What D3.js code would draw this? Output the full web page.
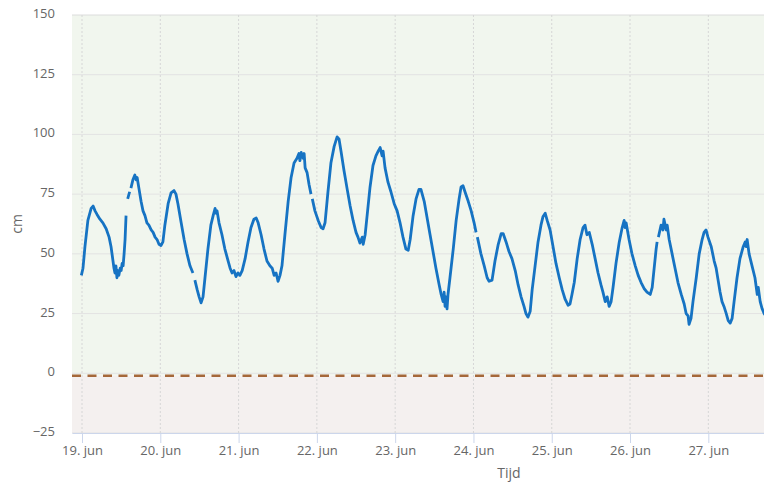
<!DOCTYPE html>
<html>
<head>
<meta charset="utf-8">
<script src="https://cdn.jsdelivr.net/npm/d3@7"></script>
<style>
  body { margin: 0; background: #fff; }
  svg { display: block; font-family: "Open Sans", sans-serif; }
</style>
</head>
<body>
<svg id="chart" width="764" height="484"></svg>
<script>
// hours after 19 jun 00:00
var hours = [
  -0.2, 0.3, 0.9, 1.8, 2.8, 3.4, 4.0, 4.6, 5.5, 6.4, 7.4, 8.3, 8.9, 9.5, 9.8, 10.1, 10.4, 10.7, 11.0, 11.3,
  11.7, 12.0, 12.3, 12.6, 12.9, 13.2, 13.5, 13.7, 14.0, 14.6, 14.8, 15.0, 15.6, 16.2, 16.6, 16.9, 17.5, 18.1, 18.7, 19.3,
  19.9, 20.5, 21.2, 21.8, 22.4, 23.0, 23.6, 24.2, 24.8, 25.4, 26.4, 27.3, 28.2, 28.8, 29.4, 30.4, 31.3, 32.2, 33.1, 34.0,
  34.3, 34.6, 35.3, 35.9, 36.5, 37.1, 37.7, 38.6, 39.5, 40.2, 40.8, 41.1, 41.4, 42.0, 42.9, 43.8, 44.8, 45.4, 46.0, 46.6,
  47.2, 47.8, 48.4, 49.1, 50.0, 50.9, 51.8, 52.7, 53.4, 54.0, 54.9, 55.8, 56.7, 57.6, 58.3, 58.9, 59.5, 60.1, 60.7, 61.3,
  62.2, 63.2, 64.1, 65.0, 65.9, 66.5, 66.8, 67.2, 67.8, 68.1, 68.4, 69.0, 69.6, 70.2, 70.4, 70.6, 71.4, 72.4, 73.3, 73.9,
  74.5, 75.4, 76.3, 77.3, 78.2, 78.8, 79.4, 80.3, 81.3, 82.2, 83.1, 84.0, 84.6, 85.2, 85.9, 86.2, 86.8, 87.4, 88.3, 89.2,
  90.1, 90.8, 91.4, 92.0, 92.3, 92.9, 93.8, 94.7, 95.7, 96.6, 97.5, 98.4, 99.3, 100.0, 100.6, 101.5, 102.4, 103.3, 103.9, 104.9,
  105.8, 106.7, 107.6, 108.5, 109.5, 110.1, 110.7, 111.0, 111.3, 111.6, 111.9, 112.2, 112.8, 113.8, 114.7, 115.6, 116.2, 116.8, 117.4, 118.4,
  119.3, 120.2, 120.8, 121.0, 121.2, 122.3, 123.3, 124.2, 124.8, 125.7, 126.6, 127.6, 128.5, 129.1, 130.0, 130.9, 131.8, 132.8, 133.7, 134.6,
  135.5, 136.1, 136.7, 137.4, 138.0, 138.9, 139.8, 140.7, 141.3, 142.0, 142.6, 143.5, 144.4, 145.3, 146.3, 147.2, 148.1, 149.0, 149.6, 150.2,
  150.9, 151.8, 152.7, 153.6, 154.2, 154.8, 155.5, 156.4, 157.3, 158.2, 159.1, 159.7, 160.4, 161.0, 161.6, 162.2, 162.8, 163.7, 164.7, 165.6,
  166.2, 166.5, 166.8, 167.7, 168.6, 169.6, 170.5, 171.4, 172.3, 173.2, 174.2, 174.8, 175.4, 176.0, 176.3, 176.5, 176.7, 177.5, 178.1, 178.4,
  179.1, 179.4, 180.0, 180.9, 181.8, 182.7, 183.7, 184.6, 185.2, 185.8, 186.1, 186.7, 187.3, 188.3, 189.2, 190.1, 190.7, 191.3, 191.9, 192.9,
  193.8, 194.4, 195.0, 195.6, 196.2, 196.8, 197.5, 198.1, 198.7, 199.3, 199.9, 200.8, 201.7, 202.7, 203.3, 203.6, 203.9, 204.5, 205.4, 206.3,
  207.0, 207.3, 207.9, 208.5, 209.1, 209.7
];
// waterstand in cm, null = missing measurement
var level = [
  41, 44, 53, 64, 69, 70, 68, 66.5, 64.5, 63, 60.5, 57, 53, 47, 44, 42, 45, 40, 43, 41,
  44, 43, 46, 45, 50, 56, 66, null, 73, 76, null, 77.5, 81, 83, 81, 82, 77, 72, 68, 66,
  63, 62, 60, 59, 57, 56, 54, 53.5, 55, 62, 71, 75.5, 76.5, 75, 71, 63, 56, 50, 45, 42,
  null, 39, 35, 32, 29.5, 32, 40, 52, 62, 66, 69, 67, 68, 63, 58, 52, 47, 44, 42, 43,
  40.5, 42, 41, 43, 48, 55, 61, 64.5, 65, 63, 58, 52, 47, 45, 44, 41, 42, 38.5, 41, 45,
  58, 72, 82, 88, 90, 92, 89, 92.5, 90, 92, 86, 84, 79, 75, null, 73, 68, 64, 61, 60.5,
  63, 76, 88, 95, 99, 98, 93, 85, 77, 70, 64, 59, 57, 54.5, 57, 54, 58, 66, 78, 87,
  91, 93, 94.5, 91, 93, 86, 80, 76, 71, 68, 63, 57, 52, 51.5, 56, 66, 73, 77, 77, 72,
  65, 58, 51, 44, 37, 33, 30, 34, 28, 32, 27, 33, 40, 52, 64, 73, 78, 78.5, 76, 72,
  68, 63, 59, null, 57, 50, 45, 40, 38.5, 39, 47, 54, 58.5, 58.5, 55, 51, 48, 43, 37, 32,
  28, 25, 23.5, 26, 35, 45, 55, 62, 65.5, 67, 64, 60, 53, 46, 40, 35, 31, 28.5, 29, 33,
  38, 48, 56, 61, 62, 58, 59, 54, 48, 42, 37, 34, 30, 32, 28, 30, 36, 46, 55, 61,
  64, 61, 63, 56, 50, 45, 41, 38, 35.5, 34, 33, 36, 44, 52, 55, null, 57, 62, 60, 64.5,
  60, 62, 56, 50, 44, 38, 33, 29, 25, 24, 20.5, 23, 30, 40, 50, 56, 59, 60, 57, 53,
  47, 44, 39, 34, 30, 28, 25, 22, 21, 23, 30, 40, 48, 53, 55, 53, 56, 50, 45, 40,
  33, 36, 30, 27, 25, 24
];
var yTicks = [-25, 0, 25, 50, 75, 100, 125, 150];
var referenceLevel = -1;   // dashed line / band border

var start = Date.UTC(2021, 5, 19);
var hour = 3600 * 1000;
var data = hours.map((h, i) => ({ t: new Date(start + h * hour), v: level[i] }));

// plot area in pixels
var pL = 72, pT = 15, pR = 764, pB = 433;

var svg = d3.select("#chart");

var scX = d3.scaleUtc()
    .domain([new Date(start - 3.07 * hour), new Date(start + 209.07 * hour)])
    .range([pL, pR]);
var scY = d3.scaleLinear().domain([-25, 150]).range([pB, pT]);

// plot bands
svg.append("rect")
    .attr("x", pL).attr("width", pR - pL)
    .attr("y", scY(150)).attr("height", scY(referenceLevel) - scY(150))
    .attr("fill", "#f1f6ee");
svg.append("rect")
    .attr("x", pL).attr("width", pR - pL)
    .attr("y", scY(referenceLevel)).attr("height", scY(-25) - scY(referenceLevel))
    .attr("fill", "#f4f0ef");

// horizontal grid
svg.append("g").selectAll("line")
    .data(yTicks).enter().append("line")
    .attr("x1", pL).attr("x2", pR)
    .attr("y1", d => scY(d)).attr("y2", d => scY(d))
    .attr("stroke", d => d == 150 ? "#dcdcdc" : "#e3e3e3").attr("stroke-width", 1);

// vertical grid, dotted
var days = d3.utcDay.range(new Date(start), scX.domain()[1]);
svg.append("g").selectAll("line")
    .data(days).enter().append("line")
    .attr("x1", d => scX(d)).attr("x2", d => scX(d))
    .attr("y1", pT).attr("y2", pB)
    .attr("stroke", "#d6d6d6").attr("stroke-dasharray", "2,2");

// y labels
svg.append("g").selectAll("text")
    .data(yTicks).enter().append("text")
    .attr("x", 55).attr("y", d => scY(d) + 3)
    .attr("text-anchor", "end")
    .attr("font-size", 13).attr("fill", "#666")
    .text(d => d < 0 ? "\u2212" + Math.abs(d) : d);

// x axis
var xAxis = d3.axisBottom(scX)
    .tickValues(days)
    .tickFormat(d3.utcFormat("%-d. jun"))
    .tickSize(10).tickSizeOuter(0).tickPadding(3);
var gx = svg.append("g").attr("transform", "translate(0," + pB + ")").call(xAxis);
gx.select(".domain").attr("stroke", "#ccd6eb");
gx.selectAll(".tick line").attr("stroke", "#ccd6eb");
gx.selectAll(".tick text")
    .attr("font-family", "Open Sans, sans-serif")
    .attr("font-size", 13).attr("fill", "#666");

// axis titles
svg.append("text")
    .attr("transform", "translate(22,224) rotate(-90)")
    .attr("text-anchor", "middle")
    .attr("font-size", 14).attr("fill", "#666")
    .text("cm");
svg.append("text")
    .attr("x", 509).attr("y", 478)
    .attr("text-anchor", "middle")
    .attr("font-size", 14).attr("fill", "#666")
    .text("Tijd");

// reference line
svg.append("line")
    .attr("x1", pL).attr("x2", pR)
    .attr("y1", scY(referenceLevel)).attr("y2", scY(referenceLevel))
    .attr("stroke", "#a5683a").attr("stroke-width", 2.5)
    .attr("stroke-dasharray", "9,6.5");

// water level
var lineMaker = d3.line()
    .defined(d => d.v != null)
    .x(d => scX(d.t))
    .y(d => scY(d.v));

svg.append("path")
    .attr("fill", "none").attr("stroke", "#1673c3")
    .attr("stroke-width", 2.8).attr("stroke-linejoin", "round")
    .attr("d", lineMaker(data));
</script>
</body>
</html>
